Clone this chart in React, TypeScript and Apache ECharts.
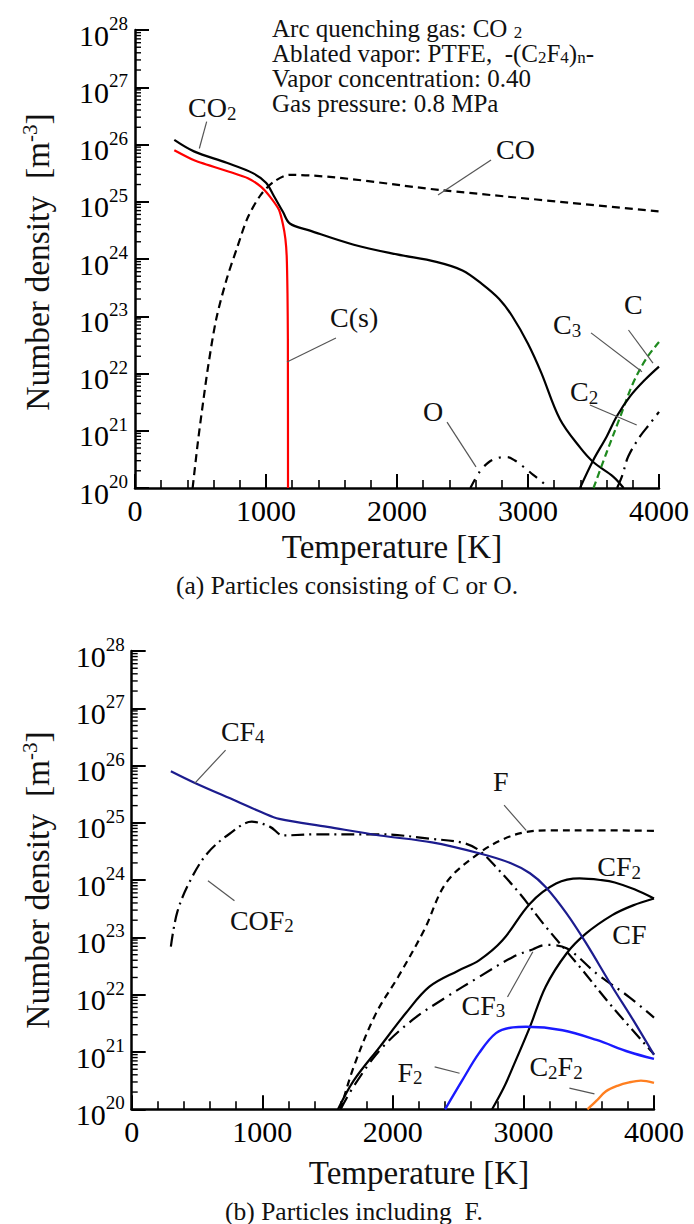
import React, { useEffect, useRef } from "react";
import * as echarts from "echarts";

const SERIF = "Liberation Serif";

// ---- data: [temperature K, log10(number density m^-3)] ----
// chart (a)
const co2A = [[300,26.08],[450,25.88],[700,25.68],[900,25.5],[1000,25.33],[1060,25.1],[1130,24.82],[1182,24.62],[1330,24.5],[1670,24.25],[2000,24.08],[2300,23.95],[2500,23.8],[2650,23.56],[2780,23.3],[2880,23.0],[3000,22.52],[3100,22.02],[3244,21.2],[3400,20.7],[3500,20.45],[3650,20.2],[3730,20.0]];
const cSolid = [[300,25.9],[456,25.72],[725,25.52],[862,25.41],[963,25.26],[1030,25.09],[1099,24.86],[1130,24.6],[1148,24.35],[1158,24.05],[1164,23.4],[1167,22.6],[1168,20.0]];
const coA = [[440,20],[480,20.8],[520,21.5],[560,22.15],[620,22.95],[700,23.65],[780,24.2],[860,24.72],[960,25.12],[1060,25.35],[1180,25.47],[2350,25.2],[4000,24.83]];
const oA = [[2560,20],[2630,20.28],[2700,20.45],[2780,20.53],[2840,20.54],[2900,20.48],[2960,20.38],[3040,20.23],[3100,20.12],[3160,20]];
const c2A = [[3680,20],[3720,20.22],[3765,20.55],[3855,20.9],[3930,21.12],[4000,21.33]];
const c3A = [[3500,20],[3600,20.62],[3700,21.22],[3800,21.82],[3900,22.25],[4000,22.55]];
const cA = [[3397,20],[3499,20.49],[3601,20.9],[3677,21.25],[3779,21.6],[3893,21.89],[4000,22.12]];

// chart (b)
const cf4B = [[300,25.9],[480,25.7],[800,25.38],[1000,25.18],[1130,25.07],[1500,24.93],[1900,24.78],[2300,24.66],[2660,24.47],[2900,24.3],[3050,24.12],[3170,23.88],[3330,23.42],[3480,22.9],[3680,22.14],[3840,21.56],[4000,20.95]];
const cof2B = [[300,22.84],[350,23.45],[450,24.0],[580,24.47],[750,24.81],[920,25.02],[1060,24.93],[1160,24.78],[1400,24.8],[1900,24.8],[2300,24.72],[2540,24.65],[2660,24.52],[2790,24.23],[2970,23.77],[3170,23.19],[3430,22.49],[3680,21.79],[4000,20.96]];
const fB = [[1600,20],[1700,20.74],[1870,21.67],[2040,22.31],[2240,23.13],[2410,23.96],[2660,24.47],[2850,24.72],[3020,24.84],[3200,24.87],[3600,24.87],[4000,24.86]];
const cf2B = [[1580,20],[1700,20.5],[1900,21.09],[2100,21.68],[2280,22.14],[2500,22.42],[2660,22.6],[2840,22.95],[3050,23.59],[3250,23.94],[3430,24.03],[3600,24.0],[3700,23.96],[3850,23.84],[4000,23.68]];
const cf3B = [[1600,20],[1700,20.4],[1900,21.03],[2150,21.56],[2410,21.96],[2660,22.31],[2920,22.66],[3070,22.79],[3170,22.87],[3330,22.81],[3560,22.37],[3810,21.96],[4000,21.6]];
const cfB = [[2760,20],[2850,20.38],[2920,20.74],[3050,21.44],[3170,22.14],[3330,22.72],[3480,23.07],[3680,23.39],[3840,23.56],[4000,23.68]];
const f2B = [[2400,20],[2530,20.5],[2660,20.98],[2790,21.33],[2920,21.43],[3020,21.44],[3300,21.38],[3560,21.21],[3810,21.0],[4000,20.88]];
const c2f2B = [[3490,20],[3560,20.15],[3630,20.31],[3720,20.41],[3810,20.47],[3900,20.5],[4000,20.46]];

// axis settings
const tempMin = 0, tempMax = 4000, tempStep = 1000;
const decadeMin = 20, decadeMax = 28;
const minorMultipliers = [2, 3, 4, 5, 6, 7, 8, 9];

// annotations: label text, anchor [T, log10 n], optional leader line
const labelsA = [
  { text: "{n|CO}{b|2}", at: [405, 26.64], leader: [[547, 26.4], [491, 25.93]] },
  { text: "{n|CO}", at: [2756, 25.92], leader: [[2718, 25.73], [2313, 25.12]] },
  { text: "{n|C(s)}", at: [1489, 22.97], leader: [[1534, 22.62], [1160, 22.2]] },
  { text: "{n|O}", at: [2198, 21.34], leader: [[2382, 21.15], [2603, 20.37]] },
  { text: "{n|C}{b|3}", at: [3191, 22.85], leader: [[3481, 22.71], [3870, 22.03]] },
  { text: "{n|C}", at: [3733, 23.2], leader: [[3767, 22.76], [3954, 22.18]] },
  { text: "{n|C}{b|2}", at: [3321, 21.68], leader: [[3473, 21.45], [3830, 21.1]] },
];
const labelsB = [
  { text: "{n|CF}{b|4}", at: [683, 26.6], leader: [[719, 26.27], [482, 25.69]] },
  { text: "{n|COF}{b|2}", at: [752, 23.3], leader: [[787, 23.64], [584, 23.99]] },
  { text: "{n|F}", at: [2767, 25.73], leader: [[2852, 25.31], [3021, 24.87]] },
  { text: "{n|CF}{b|2}", at: [3566, 24.23], leader: null },
  { text: "{n|CF}", at: [3681, 23.06], leader: null },
  { text: "{n|CF}{b|3}", at: [2526, 21.82], leader: [[2878, 21.96], [3072, 22.75]] },
  { text: "{n|F}{b|2}", at: [2036, 20.65], leader: [[2320, 20.74], [2511, 20.63]] },
  { text: "{n|C}{b|2}{n|F}{b|2}", at: [3046, 20.74], leader: [[3352, 20.37], [3544, 20.27]] },
];
const infoLines = [
  { text: "{m|Arc quenching gas: CO }{ms|2}", at: [1046, 28.03] },
  { text: "{m|Ablated vapor: PTFE,  -(C}{ms|2}{m|F}{ms|4}{m|)}{ms|n}{m|-}", at: [1046, 27.59] },
  { text: "{m|Vapor concentration: 0.40}", at: [1046, 27.16] },
  { text: "{m|Gas pressure: 0.8 MPa}", at: [1046, 26.72] },
];

const richLabel = {
  n: { fontSize: 28, fontFamily: SERIF, fill: "#111", lineHeight: 30 },
  b: { fontSize: 19, fontFamily: SERIF, fill: "#111", lineHeight: 12, verticalAlign: "bottom" },
  m: { fontSize: 25, fontFamily: SERIF, fill: "#111", lineHeight: 26 },
  ms: { fontSize: 17, fontFamily: SERIF, fill: "#111", lineHeight: 10, verticalAlign: "bottom" },
};

const toPts = (pts: number[][]) => pts.map(([t, e]) => [t, Math.pow(10, e)]);

function mkSeries(name: string, pts: number[][], gi: number, color: string, width: number, dash: any, smooth: number | boolean) {
  return {
    name,
    type: "line",
    xAxisIndex: gi,
    yAxisIndex: gi,
    data: toPts(pts),
    showSymbol: false,
    symbol: "none",
    smooth,
    clip: true,
    lineStyle: { color, width, type: dash },
    z: 3,
  };
}

function xAxis(gi: number) {
  return {
    type: "value",
    gridIndex: gi,
    min: tempMin,
    max: tempMax,
    interval: tempStep,
    axisLine: { show: true, onZero: false, lineStyle: { color: "#000", width: 2.5 } },
    axisTick: { show: true, inside: true, length: 14, lineStyle: { color: "#000", width: 2 } },
    minorTick: { show: true, splitNumber: 5, length: 8, lineStyle: { color: "#000", width: 1.6 } },
    axisLabel: { fontSize: 30, fontFamily: SERIF, color: "#000", margin: 7, formatter: (v: number) => String(v) },
    splitLine: { show: false },
  };
}

function yAxis(gi: number) {
  return {
    type: "log",
    logBase: 10,
    gridIndex: gi,
    min: Math.pow(10, decadeMin),
    max: Math.pow(10, decadeMax),
    splitNumber: 8,
    axisLine: { show: true, lineStyle: { color: "#000", width: 2.5 } },
    axisTick: { show: true, inside: true, length: 14, lineStyle: { color: "#000", width: 2 } },
    minorTick: { show: false },
    axisLabel: {
      margin: 7,
      formatter: (v: number) => `{b|10}{s|${Math.round(Math.log10(v))}}`,
      rich: {
        b: { fontSize: 30, fontFamily: SERIF, color: "#000", lineHeight: 32, padding: [10, 0, 0, 0] },
        s: { fontSize: 19, fontFamily: SERIF, color: "#000", lineHeight: 16, verticalAlign: "top" },
      },
    },
    splitLine: { show: false },
  };
}

export default function App() {
  const ref = useRef<HTMLDivElement>(null);
  useEffect(() => {
    if (!ref.current) return;
    const chart = echarts.init(ref.current, null, { renderer: "svg" });
    const option: any = {
      animation: false,
      backgroundColor: "#fff",
      textStyle: { fontFamily: SERIF },
      grid: [
        { left: 135, top: 30, width: 524, height: 458 },
        { left: 131.7, top: 651, width: 522.3, height: 458.3 },
      ],
      xAxis: [xAxis(0), xAxis(1)],
      yAxis: [yAxis(0), yAxis(1)],
      series: [
        mkSeries("CO2", co2A, 0, "#000", 2.2, "solid", 0.35),
        mkSeries("C(s)", cSolid, 0, "#ff0000", 2.2, "solid", 0.2),
        mkSeries("CO", coA, 0, "#000", 2.2, [8, 5], 0.3),
        mkSeries("O", oA, 0, "#000", 2.2, [10, 7, 2, 7], 0.35),
        mkSeries("C2", c2A, 0, "#000", 2.2, [14, 6, 2, 6], 0.35),
        mkSeries("C3", c3A, 0, "#1f8a1f", 2.2, [7, 4], 0.35),
        mkSeries("C", cA, 0, "#000", 2.2, "solid", 0.35),
        mkSeries("CF2", cf2B, 1, "#000", 2.2, "solid", 0.35),
        mkSeries("CF", cfB, 1, "#000", 2.2, "solid", 0.35),
        mkSeries("COF2", cof2B, 1, "#000", 2.2, [13, 5, 2, 5], 0.35),
        mkSeries("CF3", cf3B, 1, "#000", 2.2, [14, 6, 2, 6], 0.35),
        mkSeries("F", fB, 1, "#000", 2.2, [7, 5], 0.35),
        mkSeries("F2", f2B, 1, "#1a1aff", 2.4, "solid", 0.35),
        mkSeries("C2F2", c2f2B, 1, "#ff7f20", 2.4, "solid", 0.35),
        mkSeries("CF4", cf4B, 1, "#1c1c8e", 2.2, "solid", 0.35),
      ],
    };
    chart.setOption(option);

    const px = (gi: number, p: number[]) =>
      chart.convertToPixel({ gridIndex: gi } as any, [p[0], Math.pow(10, p[1])]) as number[];

    const graphics: any[] = [];
    // log minor ticks on the y axes (k x 10^d), placed through the axis scale
    [0, 1].forEach((gi) => {
      for (let d = decadeMin; d < decadeMax; d++) {
        minorMultipliers.forEach((k) => {
          const p = px(gi, [tempMin, d + Math.log10(k)]);
          graphics.push({
            type: "line",
            z: 5,
            shape: { x1: p[0], y1: p[1], x2: p[0] + 6, y2: p[1] },
            style: { stroke: "#000", lineWidth: 1.4 },
          });
        });
      }
    });
    const addLabels = (gi: number, labels: any[]) => {
      labels.forEach((l) => {
        const a = px(gi, l.at);
        graphics.push({
          type: "text",
          x: a[0],
          y: a[1],
          z: 10,
          style: { text: l.text, rich: richLabel, fill: "#111", align: "left", verticalAlign: "middle" },
        });
        if (l.leader) {
          const p1 = px(gi, l.leader[0]);
          const p2 = px(gi, l.leader[1]);
          graphics.push({
            type: "line",
            z: 10,
            shape: { x1: p1[0], y1: p1[1], x2: p2[0], y2: p2[1] },
            style: { stroke: "#555", lineWidth: 1.2 },
          });
        }
      });
    };
    addLabels(0, labelsA);
    addLabels(1, labelsB);
    infoLines.forEach((l) => {
      const a = px(0, l.at);
      graphics.push({
        type: "text",
        x: a[0],
        y: a[1],
        z: 10,
        style: { text: l.text, rich: richLabel, fill: "#111", align: "left", verticalAlign: "middle" },
      });
    });

    const yName = "{a|Number density  [m}{s|-3}{a|]}";
    const yRich = {
      a: { fontSize: 33.5, fontFamily: SERIF, fill: "#111", lineHeight: 36 },
      s: { fontSize: 21, fontFamily: SERIF, fill: "#111", lineHeight: 16, verticalAlign: "top" },
    };
    const titleFont = { fontSize: 33, fontFamily: SERIF, fill: "#111" };
    const capFont = { fontSize: 25.5, fontFamily: SERIF, fill: "#111" };
    graphics.push(
      { type: "text", x: 37, y: 262, rotation: Math.PI / 2, style: { text: yName, rich: yRich, align: "center", verticalAlign: "middle" } },
      { type: "text", x: 37, y: 880, rotation: Math.PI / 2, style: { text: yName, rich: yRich, align: "center", verticalAlign: "middle" } },
      { type: "text", x: 392, y: 547, style: { text: "Temperature [K]", ...titleFont, align: "center", verticalAlign: "middle" } },
      { type: "text", x: 419, y: 1173, style: { text: "Temperature [K]", ...titleFont, align: "center", verticalAlign: "middle" } },
      { type: "text", x: 347, y: 585, style: { text: "(a) Particles consisting of C or O.", ...capFont, align: "center", verticalAlign: "middle" } },
      { type: "text", x: 354, y: 1211, style: { text: "(b) Particles including  F.", ...capFont, align: "center", verticalAlign: "middle" } }
    );
    chart.setOption({ graphic: graphics });

    return () => chart.dispose();
  }, []);
  return (
    <div
      ref={ref}
      style={{ position: "absolute", left: 0, top: 0, width: 694, height: 1224, background: "#fff" }}
    />
  );
}
